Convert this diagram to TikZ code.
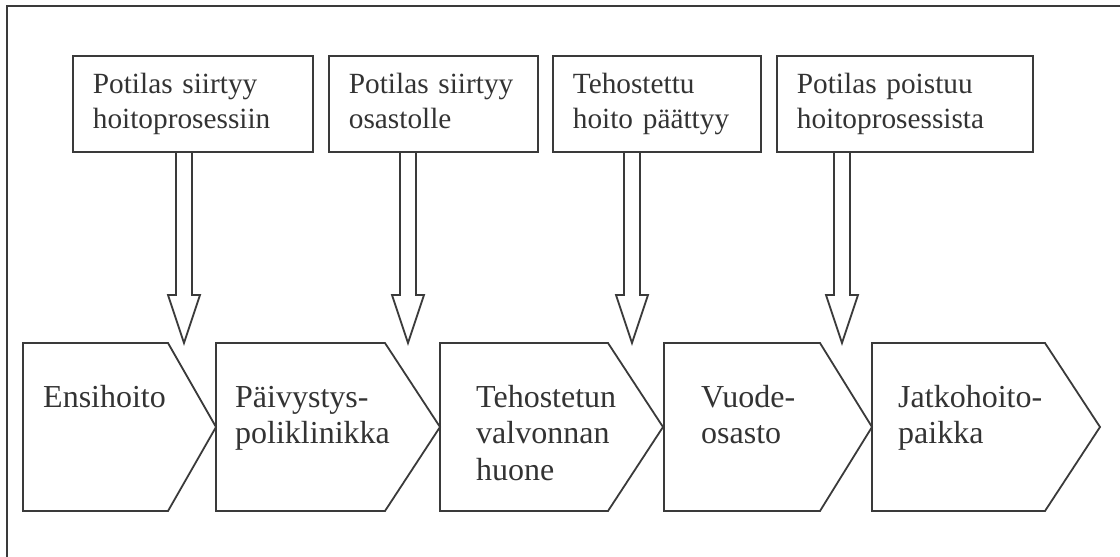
\documentclass[tikz,border=0pt]{standalone}
\usepackage{fontspec}
\setmainfont{Liberation Serif}
\usetikzlibrary{calc}
\definecolor{ink}{HTML}{333333}
\definecolor{edge}{HTML}{3A3A3A}
\tikzset{
  outline/.style={draw=edge, line width=1.8pt, line join=miter},
  event/.style={outline, rectangle, anchor=north west, minimum height=96pt,
    inner xsep=20pt, inner ysep=0pt, align=left, text=ink,
    font=\fontsize{29.3pt}{35pt}\selectfont},
  stage/.style={anchor=north west, inner sep=0pt, align=left, text=ink,
    font=\fontsize{32pt}{36.5pt}\selectfont},
}
% hollow block arrow from the bottom of an event box down to a stage
\newcommand{\blockarrow}[2]{%
  \draw[outline] ([xshift=-8pt]#1) -- ([xshift=-8pt,yshift=48pt]#2)
    -- ([xshift=-16pt,yshift=48pt]#2) -- (#2)
    -- ([xshift=16pt,yshift=48pt]#2) -- ([xshift=8pt,yshift=48pt]#2)
    -- ([xshift=8pt]#1);}
% process stage: flat left side, pointed right side
\newcommand{\stageshape}[3]{%
  \draw[outline] (#1,343) -- (#2,343) -- (#3,427) -- (#2,511) -- (#1,511) -- cycle;}
\begin{document}
\begin{tikzpicture}[x=1pt,y=-1pt]
  \useasboundingbox (0,0) rectangle (1120,557);
  % outer frame
  \draw[edge, line width=1.8pt] (7,557) -- (7,6) -- (1120,6);

  % events
  \node[event, text width=200pt] (e1) at (72,55) {\strut Potilas siirtyy\\hoitoprosessiin\strut};
  \node[event, text width=169pt] (e2) at (328,55) {\strut Potilas siirtyy\\osastolle\strut};
  \node[event, text width=168pt] (e3) at (552,55) {\strut Tehostettu\\hoito päättyy\strut};
  \node[event, text width=216pt] (e4) at (776,55) {\strut Potilas poistuu\\hoitoprosessista\strut};

  % stages
  \stageshape{23}{168}{216}
  \stageshape{216}{385}{440}
  \stageshape{440}{608}{663}
  \stageshape{664}{820}{872}
  \stageshape{872}{1045}{1100}
  \node[stage] (s1) at (43,381.5) {\strut Ensihoito};
  \node[stage] (s2) at (235,381.5) {\strut Päivystys-\\poliklinikka};
  \node[stage] (s3) at (476,381.5) {\strut Tehostetun\\valvonnan\\huone};
  \node[stage] (s4) at (701,381.5) {\strut Vuode-\\osasto};
  \node[stage] (s5) at (898,381.5) {\strut Jatkohoito-\\paikka};

  % arrow start and tip points
  \coordinate (a1) at (e1.south -| 184,0);
  \coordinate (a2) at (e2.south -| 408,0);
  \coordinate (a3) at (e3.south -| 632,0);
  \coordinate (a4) at (e4.south -| 842,0);
  \coordinate (t1) at (184,343);
  \coordinate (t2) at (408,343);
  \coordinate (t3) at (632,343);
  \coordinate (t4) at (842,343);
  \blockarrow{a1}{t1}
  \blockarrow{a2}{t2}
  \blockarrow{a3}{t3}
  \blockarrow{a4}{t4}
\end{tikzpicture}
\end{document}
